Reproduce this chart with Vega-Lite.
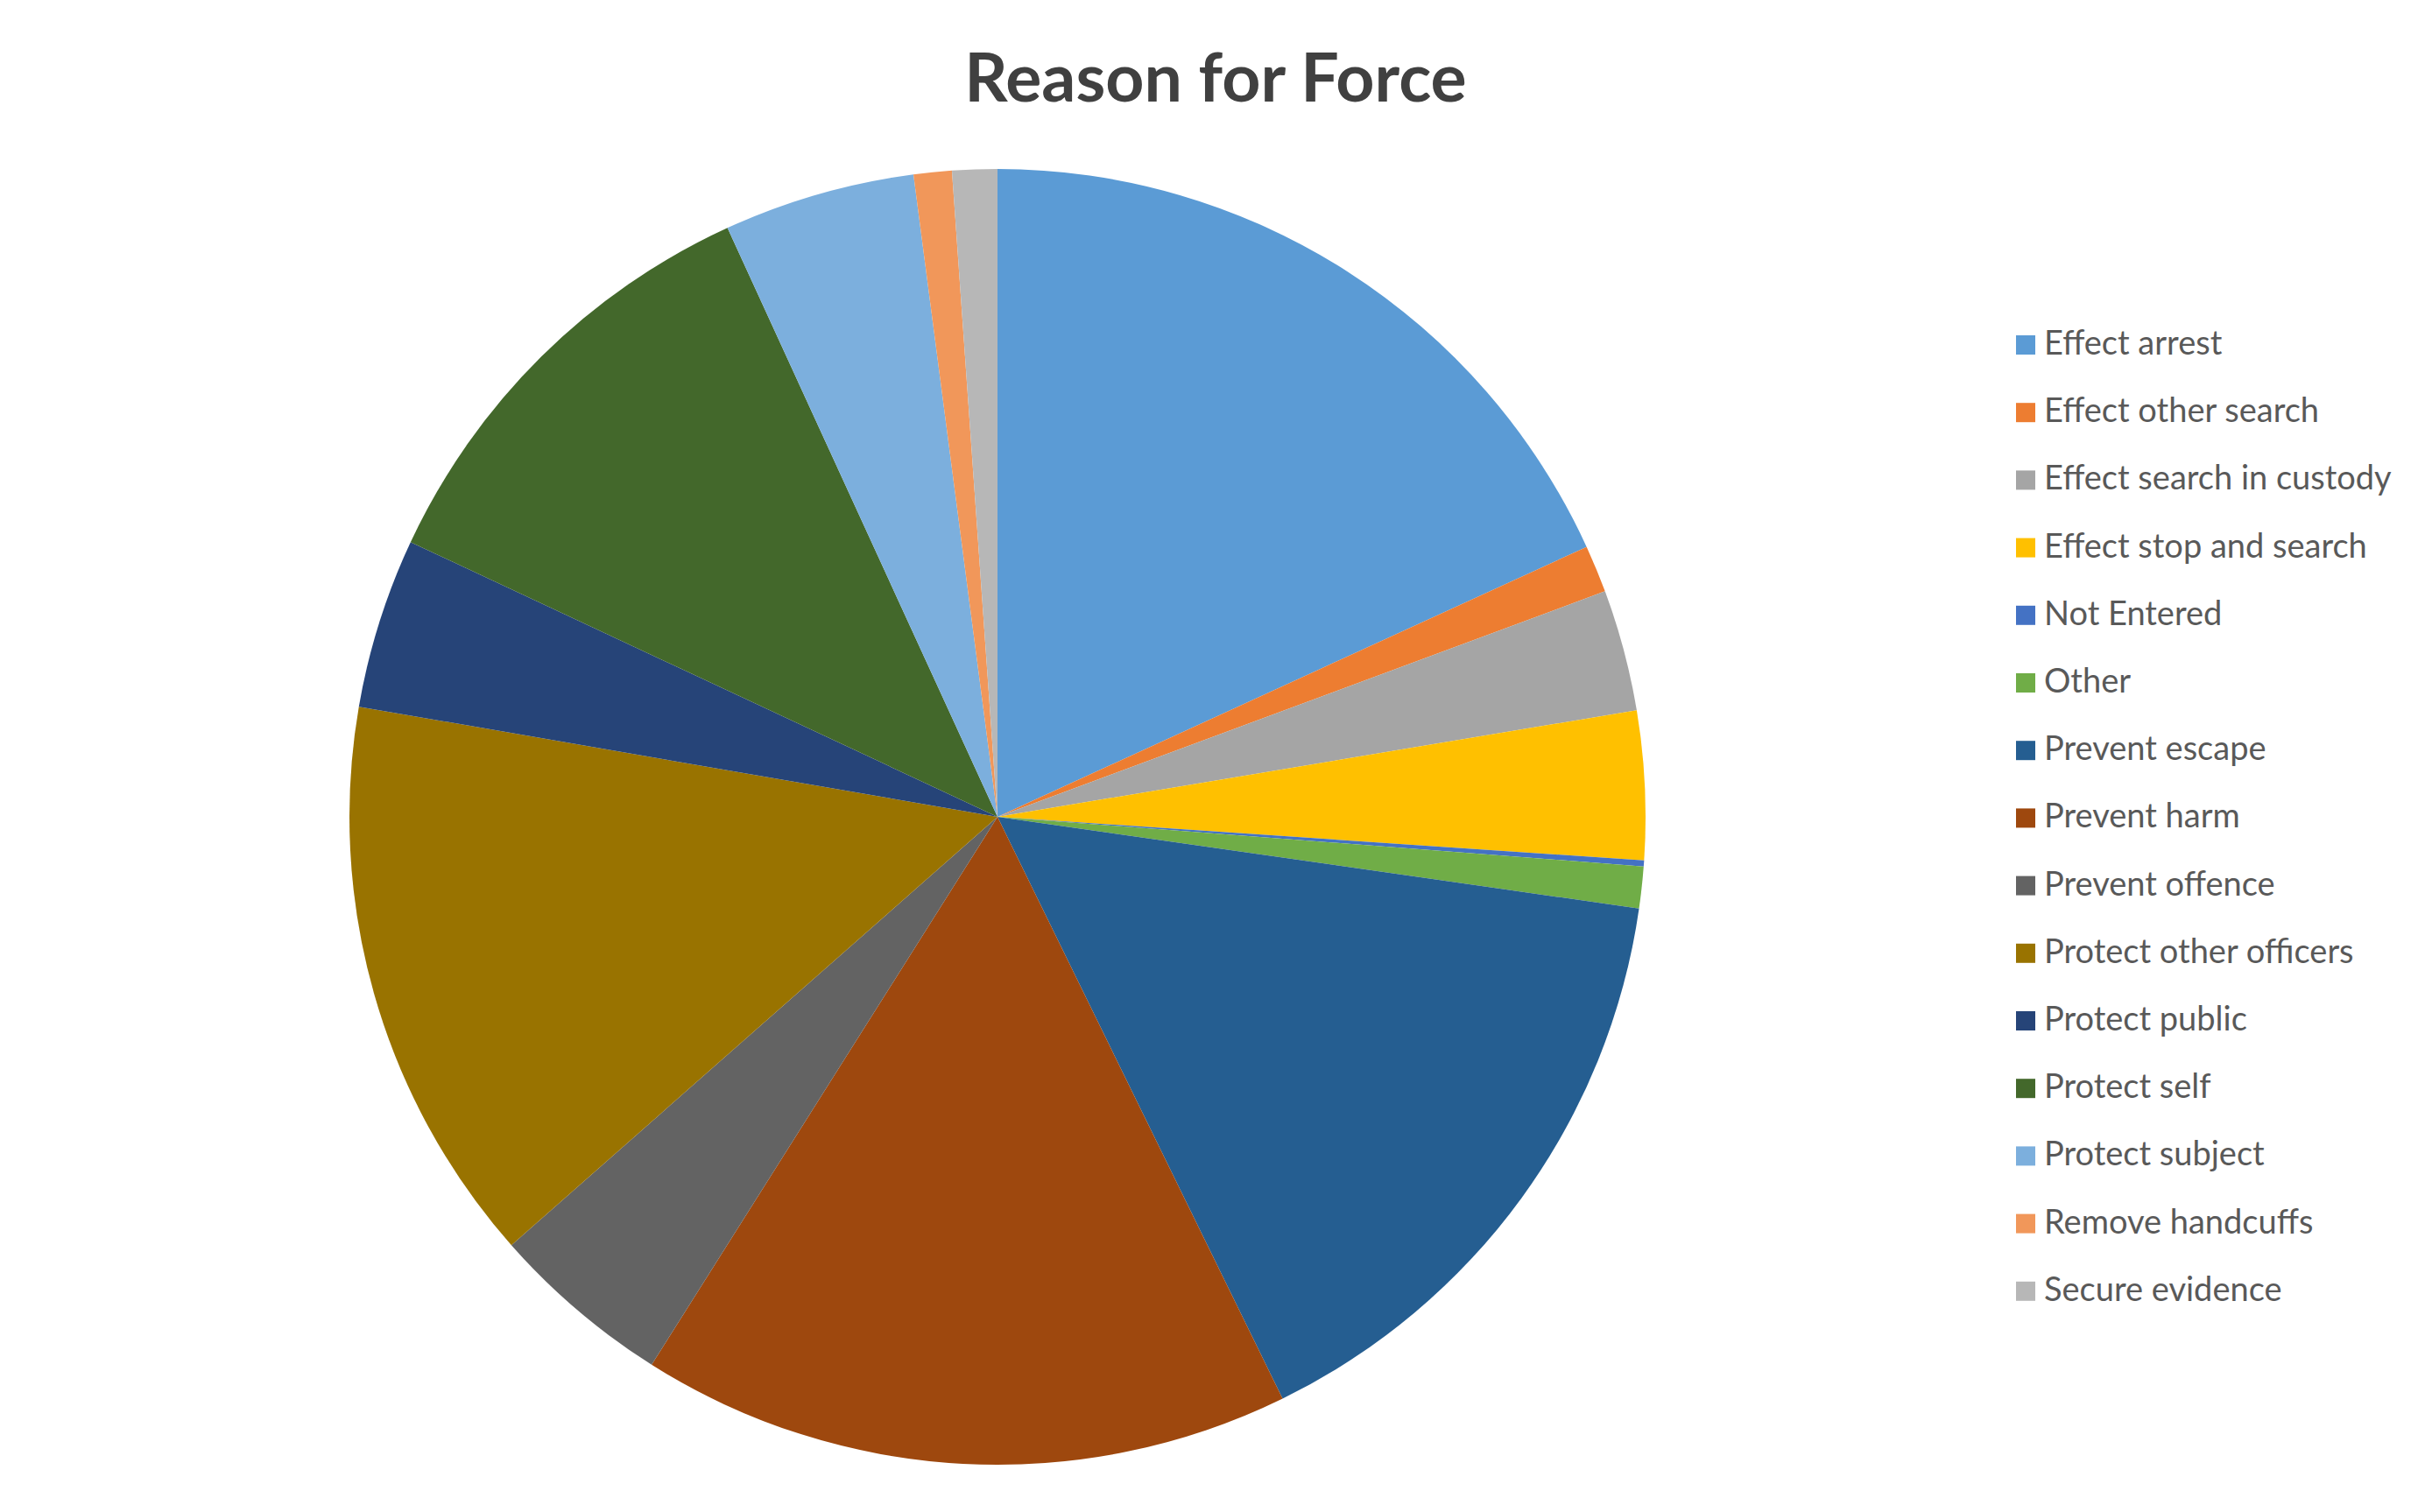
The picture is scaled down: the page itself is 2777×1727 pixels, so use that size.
{
  "$schema": "https://vega.github.io/schema/vega-lite/v6.json",
  "autosize": {"type": "none"},
  "width": 2278,
  "height": 1588,
  "padding": {"left": 0, "top": 139, "right": 499, "bottom": 0},
  "background": "white",
  "title": {
    "text": "Reason for Force",
    "font": "Lato",
    "fontSize": 77,
    "fontWeight": "bold",
    "color": "#404040",
    "anchor": "middle",
    "baseline": "alphabetic",
    "dx": 249,
    "offset": -54
  },
  "data": {
    "values": [
      {"reason": "Effect arrest", "pct": 18.16, "ord": 1},
      {"reason": "Effect other search", "pct": 1.18, "ord": 2},
      {"reason": "Effect search in custody", "pct": 3.03, "ord": 3},
      {"reason": "Effect stop and search", "pct": 3.70, "ord": 4},
      {"reason": "Not Entered", "pct": 0.15, "ord": 5},
      {"reason": "Other", "pct": 1.04, "ord": 6},
      {"reason": "Prevent escape", "pct": 15.49, "ord": 7},
      {"reason": "Prevent harm", "pct": 16.21, "ord": 8},
      {"reason": "Prevent offence", "pct": 4.54, "ord": 9},
      {"reason": "Protect other officers", "pct": 14.22, "ord": 10},
      {"reason": "Protect public", "pct": 4.25, "ord": 11},
      {"reason": "Protect self", "pct": 11.19, "ord": 12},
      {"reason": "Protect subject", "pct": 4.77, "ord": 13},
      {"reason": "Remove handcuffs", "pct": 0.95, "ord": 14},
      {"reason": "Secure evidence", "pct": 1.12, "ord": 15}
    ]
  },
  "mark": {"type": "arc", "outerRadius": 740, "stroke": null},
  "encoding": {
    "theta": {"field": "pct", "type": "quantitative", "stack": true},
    "order": {"field": "ord", "type": "quantitative"},
    "color": {
      "field": "reason",
      "type": "nominal",
      "scale": {
        "domain": [
          "Effect arrest", "Effect other search", "Effect search in custody",
          "Effect stop and search", "Not Entered", "Other", "Prevent escape",
          "Prevent harm", "Prevent offence", "Protect other officers",
          "Protect public", "Protect self", "Protect subject",
          "Remove handcuffs", "Secure evidence"
        ],
        "range": [
          "#5B9BD5", "#ED7D31", "#A5A5A5", "#FFC000", "#4472C4", "#70AD47",
          "#255E91", "#9E480E", "#636363", "#997300", "#264478", "#43682B",
          "#7CAFDD", "#F1975A", "#B7B7B7"
        ]
      },
      "legend": {
        "title": null,
        "orient": "none",
        "legendX": 2294,
        "legendY": 236,
        "symbolType": "square",
        "symbolSize": 484,
        "symbolStrokeWidth": 0,
        "labelFont": "Lato",
        "labelFontSize": 38,
        "labelColor": "#595959",
        "labelOffset": 2,
        "rowPadding": 39.2,
        "labelLimit": 600
      }
    }
  },
  "config": {"view": {"stroke": null}}
}
